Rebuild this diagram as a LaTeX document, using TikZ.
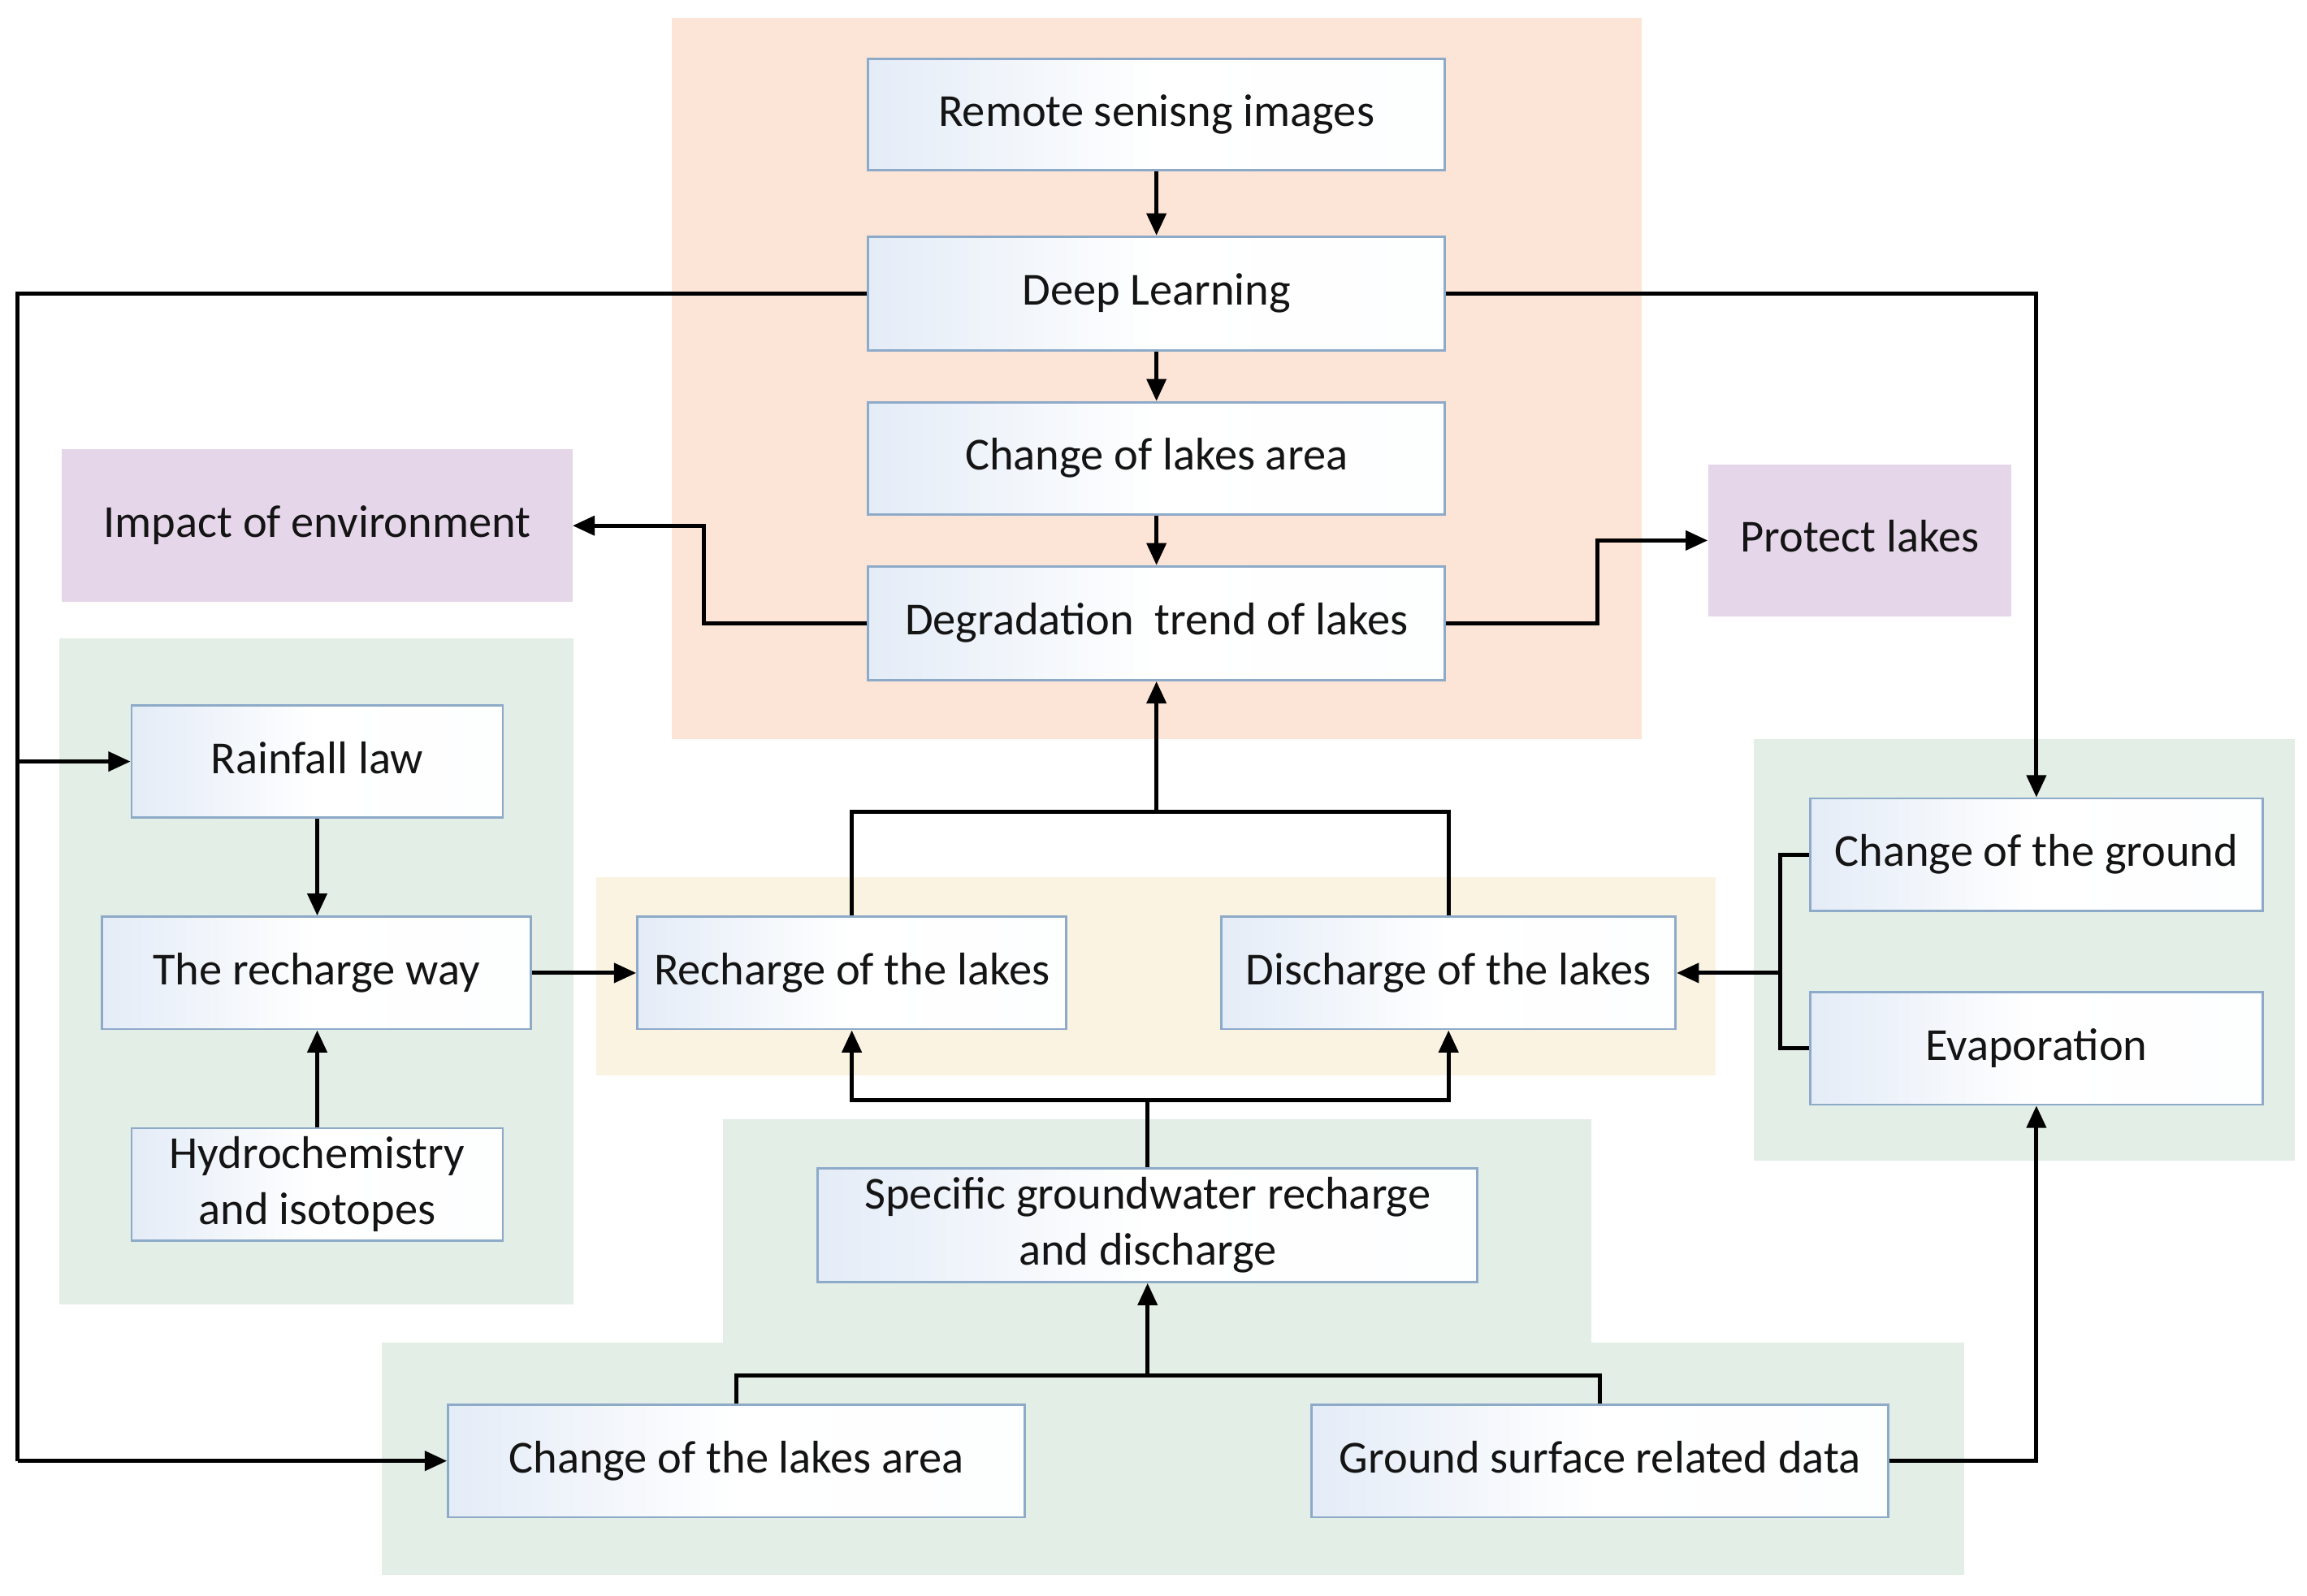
\documentclass[tikz,border=0pt]{standalone}
\usepackage{fontspec}
\setmainfont{Carlito}
\usetikzlibrary{arrows.meta}
\definecolor{peach}{HTML}{FCE4D6}
\definecolor{lav}{HTML}{E6D6EA}
\definecolor{gbg}{HTML}{E2EEE6}
\definecolor{ybg}{HTML}{FBF3E1}
\definecolor{bborder}{HTML}{8EAAC9}
\definecolor{bblue}{HTML}{E4ECF7}
\tikzset{
  region/.style={fill=#1, draw=none},
  stepbox/.style={draw=bborder, line width=1.5pt, left color=bblue, right color=white!92!bblue, middle color=white,
    inner sep=0pt, align=center, font=\fontsize{31}{38}\selectfont, text=black!92},
  purplebox/.style={fill=lav, draw=none, inner sep=0pt, align=center, font=\fontsize{31}{38}\selectfont, text=black!92},
  oneline/.style={text height=23pt, text depth=7pt},
  conn/.style={line width=2.8pt, black},
  arr/.style={conn, -{Triangle[length=15pt,width=13pt]}},
}
\begin{document}
\begin{tikzpicture}[x=1pt,y=-1pt]
\useasboundingbox (0,0) rectangle (1560,1079);
\fill[white] (0,0) rectangle (1560,1079);
% background regions
\fill[region=peach] (454,12) rectangle (1110,500);
\fill[region=gbg] (40,432) rectangle (388,882);
\fill[region=ybg] (403,593) rectangle (1160,727);
\fill[region=gbg] (1186,500) rectangle (1552,785);
\fill[region=gbg] (489,757) rectangle (1076,910);
\fill[region=gbg] (258,908) rectangle (1328,1065);
% purple boxes
\node[purplebox, oneline, minimum width=345pt, minimum height=103pt] (impact) at (214.5,355.5) {Impact of environment};
\node[purplebox, oneline, minimum width=205pt, minimum height=103pt] (protect) at (1257.5,365.5) {Protect lakes};
% boxes
\node[stepbox, oneline, minimum width=390pt, minimum height=75pt] (remote) at (782,77.5) {Remote senisng images};
\node[stepbox, oneline, minimum width=390pt, minimum height=77pt] (deep) at (782,198.5) {Deep Learning};
\node[stepbox, oneline, minimum width=390pt, minimum height=76pt] (area) at (782,310) {Change of lakes area};
\node[stepbox, oneline, minimum width=390pt, minimum height=77pt] (degr) at (782,421.5) {Degradation\ \ trend of lakes};
\node[stepbox, oneline, minimum width=251pt, minimum height=76pt] (rain) at (214.5,515) {Rainfall law};
\node[stepbox, oneline, minimum width=290pt, minimum height=76pt] (rway) at (214,658) {The recharge way};
\node[stepbox, minimum width=251pt, minimum height=76pt] (hydro) at (214.5,801) {Hydrochemistry\\and isotopes};
\node[stepbox, oneline, minimum width=290pt, minimum height=76pt] (rech) at (576,658) {Recharge of the lakes};
\node[stepbox, oneline, minimum width=307pt, minimum height=76pt] (disch) at (979.5,658) {Discharge of the lakes};
\node[stepbox, oneline, minimum width=306pt, minimum height=76pt] (cground) at (1377,578) {Change of the ground};
\node[stepbox, oneline, minimum width=306pt, minimum height=76pt] (evap) at (1377,709) {Evaporation};
\node[stepbox, minimum width=446pt, minimum height=77pt] (spec) at (776,828.5) {Specific groundwater recharge\\and discharge};
\node[stepbox, oneline, minimum width=390pt, minimum height=76pt] (clake) at (498,988) {Change of the lakes area};
\node[stepbox, oneline, minimum width=390pt, minimum height=76pt] (gsurf) at (1082,988) {Ground surface related data};
% coordinates
\coordinate (ltop) at (12,198.5);
\coordinate (lmid) at (12,515);
\coordinate (lbot) at (12,988);
\coordinate (dl) at (476,421.5);
\coordinate (dr) at (1080,421.5);
\coordinate (jt) at (782,549);
\coordinate (rb) at (1204,658);
\coordinate (jm) at (776,744);
\coordinate (jb) at (776,930);
% connectors
\draw[arr] (remote) -- (deep);
\draw[arr] (deep) -- (area);
\draw[arr] (area) -- (degr);
\draw[conn] (deep.west) -- (ltop) -- (lbot);
\draw[arr] (lbot) -- (clake.west);
\draw[arr] (lmid) -- (rain.west);
\draw[arr] (deep.east) -| (cground.north);
\draw[arr] (degr.west) -- (dl) |- (impact.east);
\draw[arr] (degr.east) -- (dr) |- (protect.west);
\draw[conn] (rech.north) |- (jt) -| (disch.north);
\draw[arr] (jt) -- (degr.south);
\draw[arr] (rain.south) -- (rain.south |- rway.north);
\draw[arr] (hydro.north) -- (hydro.north |- rway.south);
\draw[arr] (rway.east) -- (rech.west);
\draw[conn] (cground.west) -| (rb) |- (evap.west);
\draw[arr] (rb) -- (disch.east);
\draw[conn] (spec.north) -- (jm);
\draw[arr] (jm) -| (rech.south);
\draw[arr] (jm) -| (disch.south);
\draw[conn] (clake.north) |- (jb) -| (gsurf.north);
\draw[arr] (jb) -- (spec.south);
\draw[arr] (gsurf.east) -| (evap.south);
\end{tikzpicture}
\end{document}
